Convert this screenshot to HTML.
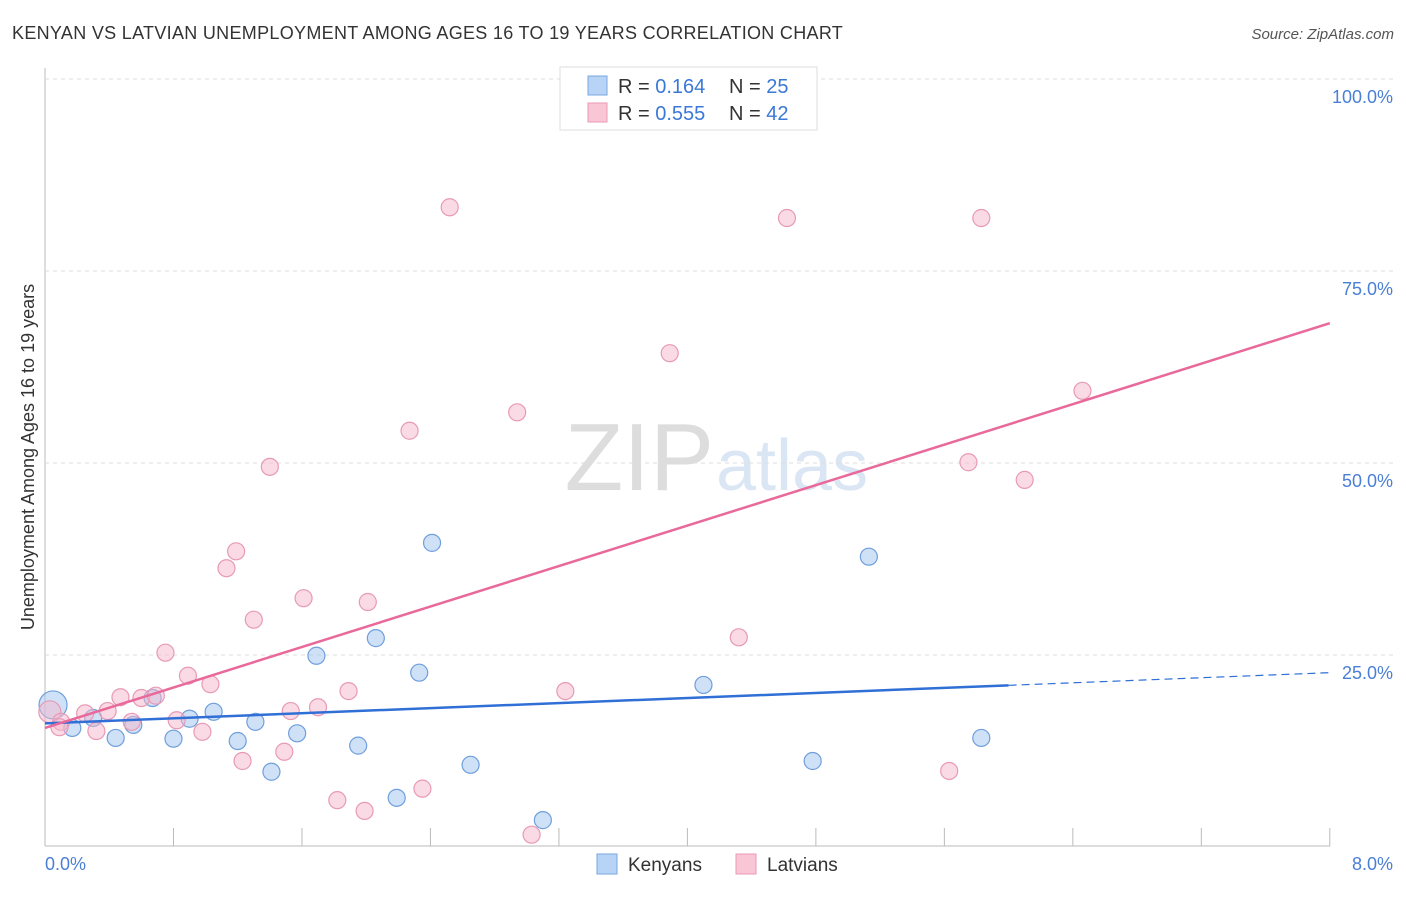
<!DOCTYPE html>
<html><head><meta charset="utf-8"><style>
body{margin:0;background:#fff;font-family:"Liberation Sans",sans-serif}
svg text{font-family:"Liberation Sans",sans-serif}
</style></head><body>
<svg id="c" width="1406" height="892">
<text x="12" y="39" font-size="18" fill="#333" letter-spacing="0.2" textLength="831">KENYAN VS LATVIAN UNEMPLOYMENT AMONG AGES 16 TO 19 YEARS CORRELATION CHART</text>
<text x="1394" y="39" font-size="15" fill="#555" font-style="italic" text-anchor="end">Source: ZipAtlas.com</text>
<text x="714" y="490" font-size="96" fill="#ddd" font-family="Liberation Serif" text-anchor="end">ZIP</text>
<text x="716" y="490" font-size="72" fill="#dbe6f5">atlas</text>
<text transform="translate(34,457) rotate(-90)" font-size="18" fill="#333" text-anchor="middle">Unemployment Among Ages 16 to 19 years</text>
<g id="grid"></g><g id="pts"></g><g id="lines"></g>
<g>
<rect x="560" y="67" width="257" height="63" fill="#fff" stroke="#ddd"/>
<rect x="588" y="76" width="19" height="19" fill="#b7d3f5" stroke="#7aa7e0"/>
<rect x="588" y="103" width="19" height="19" fill="#f9c6d6" stroke="#eb98b4"/>
<text x="618" y="93" font-size="20" fill="#333">R = <tspan fill="#3a78d8">0.164</tspan><tspan x="729">N = </tspan><tspan fill="#3a78d8">25</tspan></text>
<text x="618" y="120" font-size="20" fill="#333">R = <tspan fill="#3a78d8">0.555</tspan><tspan x="729">N = </tspan><tspan fill="#3a78d8">42</tspan></text>
</g>
<g>
<rect x="597" y="854" width="20" height="20" fill="#b7d3f5" stroke="#7aa7e0"/>
<text x="628" y="871" font-size="19" fill="#333">Kenyans</text>
<rect x="736" y="854" width="20" height="20" fill="#f9c6d6" stroke="#eb98b4"/>
<text x="767" y="871" font-size="19" fill="#333">Latvians</text>
</g>
</svg>
<script>
const yTicks=[25,50,75,100];
const xTickLabels=["0.0%","8.0%"];
const kenX=[0.05,0.17,0.30,0.44,0.55,0.67,0.80,0.90,1.05,1.20,1.31,1.41,1.57,1.69,1.95,2.06,2.19,2.33,2.41,2.65,3.10,4.10,4.78,5.13,5.83];
const kenY=[18.5,15.5,16.8,14.2,15.9,19.4,14.1,16.7,17.6,13.8,16.3,9.8,14.8,24.9,13.2,27.2,6.4,22.7,39.6,10.7,3.5,21.1,11.2,37.8,14.2];
const latX=[0.03,0.10,0.09,0.25,0.32,0.39,0.47,0.54,0.60,0.69,0.75,0.82,0.89,0.98,1.03,1.13,1.19,1.23,1.30,1.40,1.49,1.53,1.61,1.70,1.82,1.89,1.99,2.01,2.27,2.35,2.52,2.94,3.03,3.24,3.89,4.32,4.62,5.63,5.75,5.83,6.10,6.46];
const latY=[17.6,16.3,15.6,17.4,15.1,17.7,19.5,16.3,19.4,19.7,25.3,16.5,22.3,15.0,21.2,36.3,38.5,11.2,29.6,49.5,12.4,17.7,32.4,18.2,6.1,20.3,4.7,31.9,54.2,7.6,83.3,56.6,1.6,20.3,64.3,27.3,81.9,9.9,50.1,81.9,47.8,59.4];
const kenLine=[16.1,22.7], latLine=[15.5,68.2];
const X=v=>45+v*160.6, Y=v=>847-v*7.68;
const NS="http://www.w3.org/2000/svg";
function mk(t,a,p){const e=document.createElementNS(NS,t);for(const k in a)e.setAttribute(k,a[k]);p.appendChild(e);return e;}
const g=document.getElementById('grid');
mk('line',{x1:45,y1:68,x2:45,y2:846,stroke:'#bbb'},g);
mk('line',{x1:45,y1:846,x2:1330,y2:846,stroke:'#bbb'},g);
for(let i=1;i<=10;i++)mk('line',{x1:X(i*0.8),y1:828,x2:X(i*0.8),y2:846,stroke:'#bbb'},g);
yTicks.forEach(t=>{
 const l=mk('line',{x1:45,y1:Y(t),x2:1394,y2:Y(t),stroke:'#ddd','stroke-dasharray':'4,4'},g);
 
 
 const tx=mk('text',{x:1393,y:Y(t)+24,'font-size':18,fill:'#4a7fd6','text-anchor':'end'},g);
 tx.textContent=t.toFixed(1)+'%';
 
 
});
[[45,'start',0],[1393,'end',1]].forEach(([x,a,i])=>{
 const tx=mk('text',{x:x,y:870,'font-size':18,fill:'#4a7fd6','text-anchor':a},g);
 tx.textContent=xTickLabels[i];
 
 
});
const p=document.getElementById('pts');
kenX.forEach((x,i)=>{
 const c=mk('circle',{cx:X(x),cy:Y(kenY[i]),r:i==0?14:8.5,fill:'rgba(160,196,240,0.5)',stroke:'#6f9fdc','stroke-width':1.2},p);
 
 
});
latX.forEach((x,i)=>{
 const c=mk('circle',{cx:X(x),cy:Y(latY[i]),r:i==0?11:8.5,fill:'rgba(246,184,203,0.5)',stroke:'#e89ab4','stroke-width':1.2},p);
 
 
});
const L=document.getElementById('lines');
const ky=x=>kenLine[0]+(kenLine[1]-kenLine[0])*x/8;
let e=mk('line',{x1:X(0),y1:Y(ky(0)),x2:X(6),y2:Y(ky(6)),stroke:'#2f6fd6','stroke-width':2.5},L);


e=mk('line',{x1:X(6),y1:Y(ky(6)),x2:X(8),y2:Y(ky(8)),stroke:'#2f6fd6','stroke-width':1.2,'stroke-dasharray':'8,5'},L);


e=mk('line',{x1:X(0),y1:Y(latLine[0]),x2:X(8),y2:Y(latLine[1]),stroke:'#e8699a','stroke-width':2.5},L);


</script>
</body></html>
